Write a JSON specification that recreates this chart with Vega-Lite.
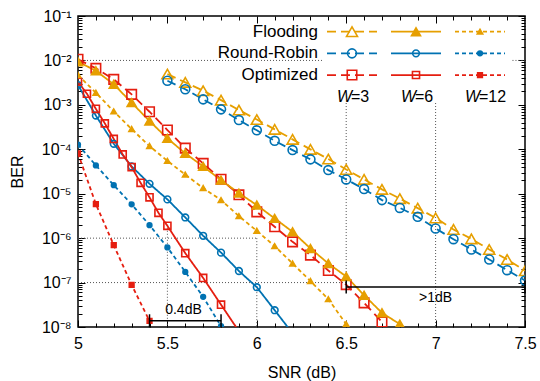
{
  "$schema": "https://vega.github.io/schema/vega-lite/v6.json",
  "width": 447,
  "height": 311,
  "autosize": {"type": "none"},
  "padding": {"left": 78, "top": 16, "right": 15, "bottom": 54},
  "background": "white",
  "config": {
    "view": {"stroke": "black", "strokeWidth": 1.5},
    "axis": {"labelFont": "Liberation Sans", "titleFont": "Liberation Sans", "tickColor": "black", "labelColor": "black", "titleColor": "black", "grid": false, "domain": false, "titleFontWeight": "normal", "tickWidth": 1, "labelFlush": false, "labelOverlap": false}
  },
  "datasets": {
    "curves": [
      {"k": "Flooding W=3", "snr": 5.5, "ber": 4.94e-3}, {"k": "Flooding W=3", "snr": 5.6, "ber": 3.21e-3}, {"k": "Flooding W=3", "snr": 5.7, "ber": 2.08e-3}, {"k": "Flooding W=3", "snr": 5.8, "ber": 1.28e-3}, {"k": "Flooding W=3", "snr": 5.9, "ber": 7.63e-4}, {"k": "Flooding W=3", "snr": 6.0, "ber": 4.67e-4}, {"k": "Flooding W=3", "snr": 6.1, "ber": 2.81e-4}, {"k": "Flooding W=3", "snr": 6.2, "ber": 1.67e-4}, {"k": "Flooding W=3", "snr": 6.3, "ber": 9.95e-5}, {"k": "Flooding W=3", "snr": 6.4, "ber": 6.02e-5}, {"k": "Flooding W=3", "snr": 6.5, "ber": 3.52e-5}, {"k": "Flooding W=3", "snr": 6.6, "ber": 2.10e-5}, {"k": "Flooding W=3", "snr": 6.7, "ber": 1.25e-5}, {"k": "Flooding W=3", "snr": 6.8, "ber": 7.76e-6}, {"k": "Flooding W=3", "snr": 6.9, "ber": 4.74e-6}, {"k": "Flooding W=3", "snr": 7.0, "ber": 2.85e-6}, {"k": "Flooding W=3", "snr": 7.1, "ber": 1.57e-6}, {"k": "Flooding W=3", "snr": 7.2, "ber": 9.64e-7}, {"k": "Flooding W=3", "snr": 7.3, "ber": 5.56e-7}, {"k": "Flooding W=3", "snr": 7.4, "ber": 3.31e-7}, {"k": "Flooding W=3", "snr": 7.5, "ber": 1.84e-7},
      {"k": "Round-Robin W=3", "snr": 5.5, "ber": 3.49e-3}, {"k": "Round-Robin W=3", "snr": 5.6, "ber": 2.24e-3}, {"k": "Round-Robin W=3", "snr": 5.7, "ber": 1.33e-3}, {"k": "Round-Robin W=3", "snr": 5.8, "ber": 7.92e-4}, {"k": "Round-Robin W=3", "snr": 5.9, "ber": 4.55e-4}, {"k": "Round-Robin W=3", "snr": 6.0, "ber": 2.67e-4}, {"k": "Round-Robin W=3", "snr": 6.1, "ber": 1.55e-4}, {"k": "Round-Robin W=3", "snr": 6.2, "ber": 9.59e-5}, {"k": "Round-Robin W=3", "snr": 6.3, "ber": 5.93e-5}, {"k": "Round-Robin W=3", "snr": 6.4, "ber": 3.40e-5}, {"k": "Round-Robin W=3", "snr": 6.5, "ber": 2.10e-5}, {"k": "Round-Robin W=3", "snr": 6.6, "ber": 1.27e-5}, {"k": "Round-Robin W=3", "snr": 6.7, "ber": 7.18e-6}, {"k": "Round-Robin W=3", "snr": 6.8, "ber": 4.79e-6}, {"k": "Round-Robin W=3", "snr": 6.9, "ber": 3.02e-6}, {"k": "Round-Robin W=3", "snr": 7.0, "ber": 1.65e-6}, {"k": "Round-Robin W=3", "snr": 7.1, "ber": 9.48e-7}, {"k": "Round-Robin W=3", "snr": 7.2, "ber": 5.56e-7}, {"k": "Round-Robin W=3", "snr": 7.3, "ber": 3.31e-7}, {"k": "Round-Robin W=3", "snr": 7.4, "ber": 1.90e-7}, {"k": "Round-Robin W=3", "snr": 7.5, "ber": 1.11e-7},
      {"k": "Optimized W=3", "snr": 5.0, "ber": 1.06e-2}, {"k": "Optimized W=3", "snr": 5.1, "ber": 6.64e-3}, {"k": "Optimized W=3", "snr": 5.2, "ber": 3.75e-3}, {"k": "Optimized W=3", "snr": 5.3, "ber": 1.72e-3}, {"k": "Optimized W=3", "snr": 5.4, "ber": 7.00e-4}, {"k": "Optimized W=3", "snr": 5.5, "ber": 2.71e-4}, {"k": "Optimized W=3", "snr": 5.6, "ber": 1.06e-4}, {"k": "Optimized W=3", "snr": 5.7, "ber": 4.81e-5}, {"k": "Optimized W=3", "snr": 5.8, "ber": 2.11e-5}, {"k": "Optimized W=3", "snr": 5.9, "ber": 9.44e-6}, {"k": "Optimized W=3", "snr": 6.0, "ber": 3.91e-6}, {"k": "Optimized W=3", "snr": 6.1, "ber": 1.80e-6}, {"k": "Optimized W=3", "snr": 6.2, "ber": 8.26e-7}, {"k": "Optimized W=3", "snr": 6.3, "ber": 4.14e-7}, {"k": "Optimized W=3", "snr": 6.4, "ber": 1.87e-7}, {"k": "Optimized W=3", "snr": 6.5, "ber": 8.97e-8}, {"k": "Optimized W=3", "snr": 6.6, "ber": 3.49e-8}, {"k": "Optimized W=3", "snr": 6.7, "ber": 1.30e-8},
      {"k": "Flooding W=6", "snr": 5.0, "ber": 9.35e-3}, {"k": "Flooding W=6", "snr": 5.1, "ber": 5.86e-3}, {"k": "Flooding W=6", "snr": 5.2, "ber": 2.90e-3}, {"k": "Flooding W=6", "snr": 5.3, "ber": 1.12e-3}, {"k": "Flooding W=6", "snr": 5.4, "ber": 4.32e-4}, {"k": "Flooding W=6", "snr": 5.5, "ber": 1.76e-4}, {"k": "Flooding W=6", "snr": 5.6, "ber": 8.09e-5}, {"k": "Flooding W=6", "snr": 5.7, "ber": 4.12e-5}, {"k": "Flooding W=6", "snr": 5.8, "ber": 2.02e-5}, {"k": "Flooding W=6", "snr": 5.9, "ber": 1.03e-5}, {"k": "Flooding W=6", "snr": 6.0, "ber": 5.54e-6}, {"k": "Flooding W=6", "snr": 6.1, "ber": 2.78e-6}, {"k": "Flooding W=6", "snr": 6.2, "ber": 1.39e-6}, {"k": "Flooding W=6", "snr": 6.3, "ber": 5.86e-7}, {"k": "Flooding W=6", "snr": 6.4, "ber": 2.69e-7}, {"k": "Flooding W=6", "snr": 6.5, "ber": 1.37e-7}, {"k": "Flooding W=6", "snr": 6.6, "ber": 5.20e-8}, {"k": "Flooding W=6", "snr": 6.7, "ber": 2.08e-8}, {"k": "Flooding W=6", "snr": 6.8, "ber": 1.16e-8},
      {"k": "Round-Robin W=6", "snr": 5.0, "ber": 2.79e-3}, {"k": "Round-Robin W=6", "snr": 5.1, "ber": 5.74e-4}, {"k": "Round-Robin W=6", "snr": 5.2, "ber": 1.33e-4}, {"k": "Round-Robin W=6", "snr": 5.3, "ber": 4.12e-5}, {"k": "Round-Robin W=6", "snr": 5.4, "ber": 1.67e-5}, {"k": "Round-Robin W=6", "snr": 5.5, "ber": 7.45e-6}, {"k": "Round-Robin W=6", "snr": 5.6, "ber": 2.92e-6}, {"k": "Round-Robin W=6", "snr": 5.7, "ber": 1.13e-6}, {"k": "Round-Robin W=6", "snr": 5.8, "ber": 4.72e-7}, {"k": "Round-Robin W=6", "snr": 5.9, "ber": 1.82e-7}, {"k": "Round-Robin W=6", "snr": 6.0, "ber": 7.87e-8}, {"k": "Round-Robin W=6", "snr": 6.1, "ber": 2.39e-8}, {"k": "Round-Robin W=6", "snr": 6.2, "ber": 7.2e-9},
      {"k": "Optimized W=6", "snr": 5.0, "ber": 3.31e-3}, {"k": "Optimized W=6", "snr": 5.05, "ber": 1.78e-3}, {"k": "Optimized W=6", "snr": 5.1, "ber": 8.13e-4}, {"k": "Optimized W=6", "snr": 5.15, "ber": 3.83e-4}, {"k": "Optimized W=6", "snr": 5.2, "ber": 1.71e-4}, {"k": "Optimized W=6", "snr": 5.25, "ber": 7.67e-5}, {"k": "Optimized W=6", "snr": 5.3, "ber": 3.97e-5}, {"k": "Optimized W=6", "snr": 5.35, "ber": 1.76e-5}, {"k": "Optimized W=6", "snr": 5.4, "ber": 8.29e-6}, {"k": "Optimized W=6", "snr": 5.45, "ber": 3.71e-6}, {"k": "Optimized W=6", "snr": 5.5, "ber": 1.89e-6}, {"k": "Optimized W=6", "snr": 5.6, "ber": 4.59e-7}, {"k": "Optimized W=6", "snr": 5.7, "ber": 1.27e-7}, {"k": "Optimized W=6", "snr": 5.8, "ber": 3.18e-8}, {"k": "Optimized W=6", "snr": 5.9, "ber": 8.0e-9},
      {"k": "Flooding W=12", "snr": 5.0, "ber": 4.69e-3}, {"k": "Flooding W=12", "snr": 5.1, "ber": 1.87e-3}, {"k": "Flooding W=12", "snr": 5.2, "ber": 7.14e-4}, {"k": "Flooding W=12", "snr": 5.3, "ber": 2.85e-4}, {"k": "Flooding W=12", "snr": 5.4, "ber": 1.18e-4}, {"k": "Flooding W=12", "snr": 5.5, "ber": 5.48e-5}, {"k": "Flooding W=12", "snr": 5.6, "ber": 2.69e-5}, {"k": "Flooding W=12", "snr": 5.7, "ber": 1.34e-5}, {"k": "Flooding W=12", "snr": 5.8, "ber": 7.18e-6}, {"k": "Flooding W=12", "snr": 5.9, "ber": 3.13e-6}, {"k": "Flooding W=12", "snr": 6.0, "ber": 1.46e-6}, {"k": "Flooding W=12", "snr": 6.1, "ber": 6.61e-7}, {"k": "Flooding W=12", "snr": 6.2, "ber": 2.69e-7}, {"k": "Flooding W=12", "snr": 6.3, "ber": 1.08e-7}, {"k": "Flooding W=12", "snr": 6.4, "ber": 4.23e-8}, {"k": "Flooding W=12", "snr": 6.5, "ber": 1.16e-8},
      {"k": "Round-Robin W=12", "snr": 5.0, "ber": 1.28e-4}, {"k": "Round-Robin W=12", "snr": 5.1, "ber": 4.34e-5}, {"k": "Round-Robin W=12", "snr": 5.2, "ber": 1.56e-5}, {"k": "Round-Robin W=12", "snr": 5.3, "ber": 5.77e-6}, {"k": "Round-Robin W=12", "snr": 5.4, "ber": 1.96e-6}, {"k": "Round-Robin W=12", "snr": 5.5, "ber": 6.18e-7}, {"k": "Round-Robin W=12", "snr": 5.6, "ber": 1.74e-7}, {"k": "Round-Robin W=12", "snr": 5.7, "ber": 4.77e-8}, {"k": "Round-Robin W=12", "snr": 5.8, "ber": 1.04e-8},
      {"k": "Optimized W=12", "snr": 5.0, "ber": 8.09e-5}, {"k": "Optimized W=12", "snr": 5.1, "ber": 5.83e-6}, {"k": "Optimized W=12", "snr": 5.2, "ber": 6.95e-7}, {"k": "Optimized W=12", "snr": 5.3, "ber": 8.87e-8}, {"k": "Optimized W=12", "snr": 5.4, "ber": 1.37e-8}
    ],
    "guides": [
      {"x": 5, "x2": 6.37, "y": 0.01, "y2": 0.01},
      {"x": 7.43, "x2": 7.5, "y": 0.01, "y2": 0.01},
      {"x": 5, "x2": 6, "y": 1e-6, "y2": 1e-6},
      {"x": 6, "x2": 6, "y": 1e-6, "y2": 1e-8},
      {"x": 5, "x2": 6.5, "y": 1e-7, "y2": 1e-7},
      {"x": 6.5, "x2": 6.5, "y": 1.1e-3, "y2": 1e-7},
      {"x": 7, "x2": 7, "y": 1.1e-3, "y2": 1e-8},
      {"x": 5.5, "x2": 5.5, "y": 2e-6, "y2": 1e-8}
    ],
    "arrows": [
      {"t": "0.4dB", "x": 5.4, "x2": 5.8, "y": 1.38e-8, "tx": 5.59, "ty": 2.45e-8},
      {"t": ">1dB", "x": 6.5, "x2": 7.5, "y": 8.0e-8, "tx": 7.0, "ty": 4.5e-8}
    ],
    "legend": [
      {"k": "Flooding W=3", "s": "Flooding", "w": "W=3", "e": "=3"},
      {"k": "Round-Robin W=3", "s": "Round-Robin", "w": "W=3", "e": "=3"},
      {"k": "Optimized W=3", "s": "Optimized", "w": "W=3", "e": "=3"},
      {"k": "Flooding W=6", "s": "Flooding", "w": "W=6", "e": "=6"},
      {"k": "Round-Robin W=6", "s": "Round-Robin", "w": "W=6", "e": "=6"},
      {"k": "Optimized W=6", "s": "Optimized", "w": "W=6", "e": "=6"},
      {"k": "Flooding W=12", "s": "Flooding", "w": "W=12", "e": "=12"},
      {"k": "Round-Robin W=12", "s": "Round-Robin", "w": "W=12", "e": "=12"},
      {"k": "Optimized W=12", "s": "Optimized", "w": "W=12", "e": "=12"}
    ]
  },
  "layer": [
    {
      "layer": [
        {
          "data": {"name": "guides"},
          "mark": {"type": "rule", "strokeDash": [1, 2], "color": "#555555", "strokeWidth": 1},
          "encoding": {
            "x": {"field": "x", "type": "quantitative", "scale": {"domain": [5, 7.5], "nice": false, "zero": false},
                  "axis": {"orient": "top", "values": [5.5, 6, 6.5, 7], "labels": false, "tickSize": 7, "offset": -7, "title": null}},
            "x2": {"field": "x2"},
            "y": {"field": "y", "type": "quantitative", "scale": {"type": "log", "domain": [1e-8, 0.1], "nice": false},
                  "axis": {"orient": "right", "values": [1e-8, 1e-7, 1e-6, 1e-5, 1e-4, 1e-3, 1e-2, 1e-1], "labels": false, "tickSize": 7, "offset": -7, "title": null}},
            "y2": {"field": "y2"}
          }
        },
        {
          "data": {"name": "curves"},
          "mark": {"type": "line", "strokeWidth": 1.8, "clip": true},
          "encoding": {
            "x": {"field": "snr", "type": "quantitative", "scale": {"domain": [5, 7.5], "nice": false, "zero": false},
                  "axis": {"orient": "bottom", "values": [5, 5.5, 6, 6.5, 7, 7.5], "labelExpr": "'' + datum.value", "tickSize": 7, "offset": -7, "labelPadding": 8, "labelFontSize": 16, "title": "SNR (dB)", "titleFontSize": 16, "titleX": 223.5, "titleY": 52, "titleBaseline": "middle", "titleAlign": "center"}},
            "y": {"field": "ber", "type": "quantitative", "scale": {"type": "log", "domain": [1e-8, 0.1], "nice": false},
                  "axis": {"orient": "left", "values": [1e-8, 1e-7, 1e-6, 1e-5, 1e-4, 1e-3, 1e-2, 1e-1], "labelExpr": "'10' + ['⁰','⁻¹','⁻²','⁻³','⁻⁴','⁻⁵','⁻⁶','⁻⁷','⁻⁸'][round(-log(datum.value)/LN10)]", "tickSize": 7, "offset": -7, "labelPadding": 7, "labelFontSize": 16, "title": "BER", "titleFontSize": 16, "titleX": -68, "titleY": 155.5, "titleAngle": -90, "titleBaseline": "middle", "titleAlign": "center"}},
            "detail": {"field": "k"},
            "color": {"field": "k", "type": "nominal", "legend": null,
                      "scale": {"domain": ["Flooding W=3", "Round-Robin W=3", "Optimized W=3", "Flooding W=6", "Round-Robin W=6", "Optimized W=6", "Flooding W=12", "Round-Robin W=12", "Optimized W=12"],
                                "range": ["#E69F00", "#0072B2", "#E51E10", "#E69F00", "#0072B2", "#E51E10", "#E69F00", "#0072B2", "#E51E10"]}},
            "strokeDash": {"field": "k", "type": "nominal", "legend": null,
                      "scale": {"domain": ["Flooding W=3", "Round-Robin W=3", "Optimized W=3", "Flooding W=6", "Round-Robin W=6", "Optimized W=6", "Flooding W=12", "Round-Robin W=12", "Optimized W=12"],
                                "range": [[9, 5], [9, 5], [9, 5], [1, 0], [1, 0], [1, 0], [4, 3], [4, 3], [4, 3]]}}
          }
        },
        {
          "data": {"name": "curves"},
          "mark": {"type": "point", "strokeWidth": 1.6, "clip": true, "opacity": 1},
          "encoding": {
            "x": {"field": "snr", "type": "quantitative", "scale": {"domain": [5, 7.5], "nice": false, "zero": false},
                  "axis": {"orient": "bottom", "values": [5.1, 5.2, 5.3, 5.4, 5.6, 5.7, 5.8, 5.9, 6.1, 6.2, 6.3, 6.4, 6.6, 6.7, 6.8, 6.9, 7.1, 7.2, 7.3, 7.4], "labels": false, "tickSize": 4, "offset": -4, "title": null}},
            "y": {"field": "ber", "type": "quantitative", "scale": {"type": "log", "domain": [1e-8, 0.1], "nice": false},
                  "axis": {"orient": "left", "values": [2e-8, 3e-8, 4e-8, 5e-8, 6e-8, 7e-8, 8e-8, 9e-8, 2e-7, 3e-7, 4e-7, 5e-7, 6e-7, 7e-7, 8e-7, 9e-7, 2e-6, 3e-6, 4e-6, 5e-6, 6e-6, 7e-6, 8e-6, 9e-6, 2e-5, 3e-5, 4e-5, 5e-5, 6e-5, 7e-5, 8e-5, 9e-5, 2e-4, 3e-4, 4e-4, 5e-4, 6e-4, 7e-4, 8e-4, 9e-4, 2e-3, 3e-3, 4e-3, 5e-3, 6e-3, 7e-3, 8e-3, 9e-3, 0.02, 0.03, 0.04, 0.05, 0.06, 0.07, 0.08, 0.09], "labels": false, "tickSize": 4, "offset": -4, "title": null}},
            "stroke": {"field": "k", "type": "nominal", "legend": null,
                      "scale": {"domain": ["Flooding W=3", "Round-Robin W=3", "Optimized W=3", "Flooding W=6", "Round-Robin W=6", "Optimized W=6", "Flooding W=12", "Round-Robin W=12", "Optimized W=12"],
                                "range": ["#E69F00", "#0072B2", "#E51E10", "#E69F00", "#0072B2", "#E51E10", "#E69F00", "#0072B2", "#E51E10"]}},
            "fill": {"field": "k", "type": "nominal", "legend": null,
                      "scale": {"domain": ["Flooding W=3", "Round-Robin W=3", "Optimized W=3", "Flooding W=6", "Round-Robin W=6", "Optimized W=6", "Flooding W=12", "Round-Robin W=12", "Optimized W=12"],
                                "range": ["#E69F00", "#0072B2", "#E51E10", "#E69F00", "#0072B2", "#E51E10", "#E69F00", "#0072B2", "#E51E10"]}},
            "fillOpacity": {"field": "k", "type": "nominal", "legend": null,
                      "scale": {"type": "ordinal", "domain": ["Flooding W=3", "Round-Robin W=3", "Optimized W=3", "Flooding W=6", "Round-Robin W=6", "Optimized W=6", "Flooding W=12", "Round-Robin W=12", "Optimized W=12"],
                                "range": [0, 0, 0, 1, 0, 0, 1, 1, 1]}},
            "shape": {"field": "k", "type": "nominal", "legend": null,
                      "scale": {"domain": ["Flooding W=3", "Round-Robin W=3", "Optimized W=3", "Flooding W=6", "Round-Robin W=6", "Optimized W=6", "Flooding W=12", "Round-Robin W=12", "Optimized W=12"],
                                "range": ["triangle-up", "circle", "square", "triangle-up", "circle", "square", "triangle-up", "circle", "square"]}},
            "size": {"field": "k", "type": "nominal", "legend": null,
                      "scale": {"type": "ordinal", "domain": ["Flooding W=3", "Round-Robin W=3", "Optimized W=3", "Flooding W=6", "Round-Robin W=6", "Optimized W=6", "Flooding W=12", "Round-Robin W=12", "Optimized W=12"],
                                "range": [120, 80, 90, 81, 45, 50, 30, 22, 22]}}
          }
        },
        {
          "data": {"name": "arrows"},
          "mark": {"type": "rule", "color": "black", "strokeWidth": 1.5},
          "encoding": {
            "x": {"field": "x", "type": "quantitative", "scale": {"domain": [5, 7.5], "nice": false, "zero": false},
                  "axis": {"orient": "top", "values": [5.1, 5.2, 5.3, 5.4, 5.6, 5.7, 5.8, 5.9, 6.1, 6.2, 6.3, 6.4, 6.6, 6.7, 6.8, 6.9, 7.1, 7.2, 7.3, 7.4], "labels": false, "tickSize": 4, "offset": -4, "title": null}},
            "x2": {"field": "x2"},
            "y": {"field": "y", "type": "quantitative", "scale": {"type": "log", "domain": [1e-8, 0.1], "nice": false},
                  "axis": {"orient": "right", "values": [2e-8, 3e-8, 4e-8, 5e-8, 6e-8, 7e-8, 8e-8, 9e-8, 2e-7, 3e-7, 4e-7, 5e-7, 6e-7, 7e-7, 8e-7, 9e-7, 2e-6, 3e-6, 4e-6, 5e-6, 6e-6, 7e-6, 8e-6, 9e-6, 2e-5, 3e-5, 4e-5, 5e-5, 6e-5, 7e-5, 8e-5, 9e-5, 2e-4, 3e-4, 4e-4, 5e-4, 6e-4, 7e-4, 8e-4, 9e-4, 2e-3, 3e-3, 4e-3, 5e-3, 6e-3, 7e-3, 8e-3, 9e-3, 0.02, 0.03, 0.04, 0.05, 0.06, 0.07, 0.08, 0.09], "labels": false, "tickSize": 4, "offset": -4, "title": null}}
          }
        },
        {
          "data": {"name": "arrows"},
          "transform": [{"fold": ["x", "x2"], "as": ["end", "xe"]}],
          "mark": {"type": "tick", "orient": "vertical", "size": 13, "thickness": 1.5, "color": "black", "opacity": 1},
          "encoding": {
            "x": {"field": "xe", "type": "quantitative", "scale": {"domain": [5, 7.5], "nice": false, "zero": false}, "axis": null},
            "y": {"field": "y", "type": "quantitative", "scale": {"type": "log", "domain": [1e-8, 0.1], "nice": false}, "axis": null}
          }
        },
        {
          "data": {"name": "arrows"},
          "mark": {"type": "text", "font": "Liberation Sans", "fontSize": 14, "color": "black", "align": "center", "baseline": "middle"},
          "encoding": {
            "x": {"field": "tx", "type": "quantitative", "scale": {"domain": [5, 7.5], "nice": false, "zero": false}, "axis": null},
            "y": {"field": "ty", "type": "quantitative", "scale": {"type": "log", "domain": [1e-8, 0.1], "nice": false}, "axis": null},
            "text": {"field": "t"}
          }
        }
      ],
      "resolve": {"axis": {"x": "independent", "y": "independent"}}
    },
    {
      "data": {"name": "legend"},
      "encoding": {
        "x": {"field": "w", "type": "nominal", "scale": {"type": "point", "domain": ["W=3", "W=6", "W=12"], "range": [274, 402], "padding": 0}, "axis": null},
        "y": {"field": "s", "type": "nominal", "scale": {"type": "point", "domain": ["Flooding", "Round-Robin", "Optimized", "W"], "range": [15.7, 80.7], "padding": 0}, "axis": null}
      },
      "layer": [
        {
          "mark": {"type": "rule", "strokeWidth": 1.8, "xOffset": -25, "x2Offset": 25},
          "encoding": {
            "x2": {"field": "w"},
            "color": {"field": "k", "type": "nominal", "legend": null,
                      "scale": {"domain": ["Flooding W=3", "Round-Robin W=3", "Optimized W=3", "Flooding W=6", "Round-Robin W=6", "Optimized W=6", "Flooding W=12", "Round-Robin W=12", "Optimized W=12"],
                                "range": ["#E69F00", "#0072B2", "#E51E10", "#E69F00", "#0072B2", "#E51E10", "#E69F00", "#0072B2", "#E51E10"]}},
            "strokeDash": {"field": "k", "type": "nominal", "legend": null,
                      "scale": {"domain": ["Flooding W=3", "Round-Robin W=3", "Optimized W=3", "Flooding W=6", "Round-Robin W=6", "Optimized W=6", "Flooding W=12", "Round-Robin W=12", "Optimized W=12"],
                                "range": [[9, 5], [9, 5], [9, 5], [1, 0], [1, 0], [1, 0], [4, 3], [4, 3], [4, 3]]}}
          }
        },
        {
          "mark": {"type": "point", "strokeWidth": 1.6, "opacity": 1},
          "encoding": {
            "stroke": {"field": "k", "type": "nominal", "legend": null,
                      "scale": {"domain": ["Flooding W=3", "Round-Robin W=3", "Optimized W=3", "Flooding W=6", "Round-Robin W=6", "Optimized W=6", "Flooding W=12", "Round-Robin W=12", "Optimized W=12"],
                                "range": ["#E69F00", "#0072B2", "#E51E10", "#E69F00", "#0072B2", "#E51E10", "#E69F00", "#0072B2", "#E51E10"]}},
            "fill": {"field": "k", "type": "nominal", "legend": null,
                      "scale": {"domain": ["Flooding W=3", "Round-Robin W=3", "Optimized W=3", "Flooding W=6", "Round-Robin W=6", "Optimized W=6", "Flooding W=12", "Round-Robin W=12", "Optimized W=12"],
                                "range": ["#E69F00", "#0072B2", "#E51E10", "#E69F00", "#0072B2", "#E51E10", "#E69F00", "#0072B2", "#E51E10"]}},
            "fillOpacity": {"field": "k", "type": "nominal", "legend": null,
                      "scale": {"type": "ordinal", "domain": ["Flooding W=3", "Round-Robin W=3", "Optimized W=3", "Flooding W=6", "Round-Robin W=6", "Optimized W=6", "Flooding W=12", "Round-Robin W=12", "Optimized W=12"],
                                "range": [0, 0, 0, 1, 0, 0, 1, 1, 1]}},
            "shape": {"field": "k", "type": "nominal", "legend": null,
                      "scale": {"domain": ["Flooding W=3", "Round-Robin W=3", "Optimized W=3", "Flooding W=6", "Round-Robin W=6", "Optimized W=6", "Flooding W=12", "Round-Robin W=12", "Optimized W=12"],
                                "range": ["triangle-up", "circle", "square", "triangle-up", "circle", "square", "triangle-up", "circle", "square"]}},
            "size": {"field": "k", "type": "nominal", "legend": null,
                      "scale": {"type": "ordinal", "domain": ["Flooding W=3", "Round-Robin W=3", "Optimized W=3", "Flooding W=6", "Round-Robin W=6", "Optimized W=6", "Flooding W=12", "Round-Robin W=12", "Optimized W=12"],
                                "range": [120, 80, 90, 81, 45, 50, 30, 22, 22]}}
          }
        },
        {
          "transform": [{"filter": "datum.w == 'W=3'"}],
          "mark": {"type": "text", "font": "Liberation Sans", "fontSize": 17, "color": "black", "align": "right", "baseline": "middle", "dx": -34},
          "encoding": {"text": {"field": "s"}}
        },
        {
          "transform": [{"filter": "datum.s == 'Flooding'"}],
          "mark": {"type": "text", "font": "Liberation Sans", "fontSize": 16, "fontStyle": "italic", "color": "black", "align": "right", "baseline": "middle", "dx": 0},
          "encoding": {"y": {"datum": "W"}, "text": {"value": "W"}}
        },
        {
          "transform": [{"filter": "datum.s == 'Flooding'"}],
          "mark": {"type": "text", "font": "Liberation Sans", "fontSize": 16, "color": "black", "align": "left", "baseline": "middle", "dx": -1},
          "encoding": {"y": {"datum": "W"}, "text": {"field": "e"}}
        }
      ]
    }
  ],
  "resolve": {"scale": {"x": "independent", "y": "independent"}}
}
